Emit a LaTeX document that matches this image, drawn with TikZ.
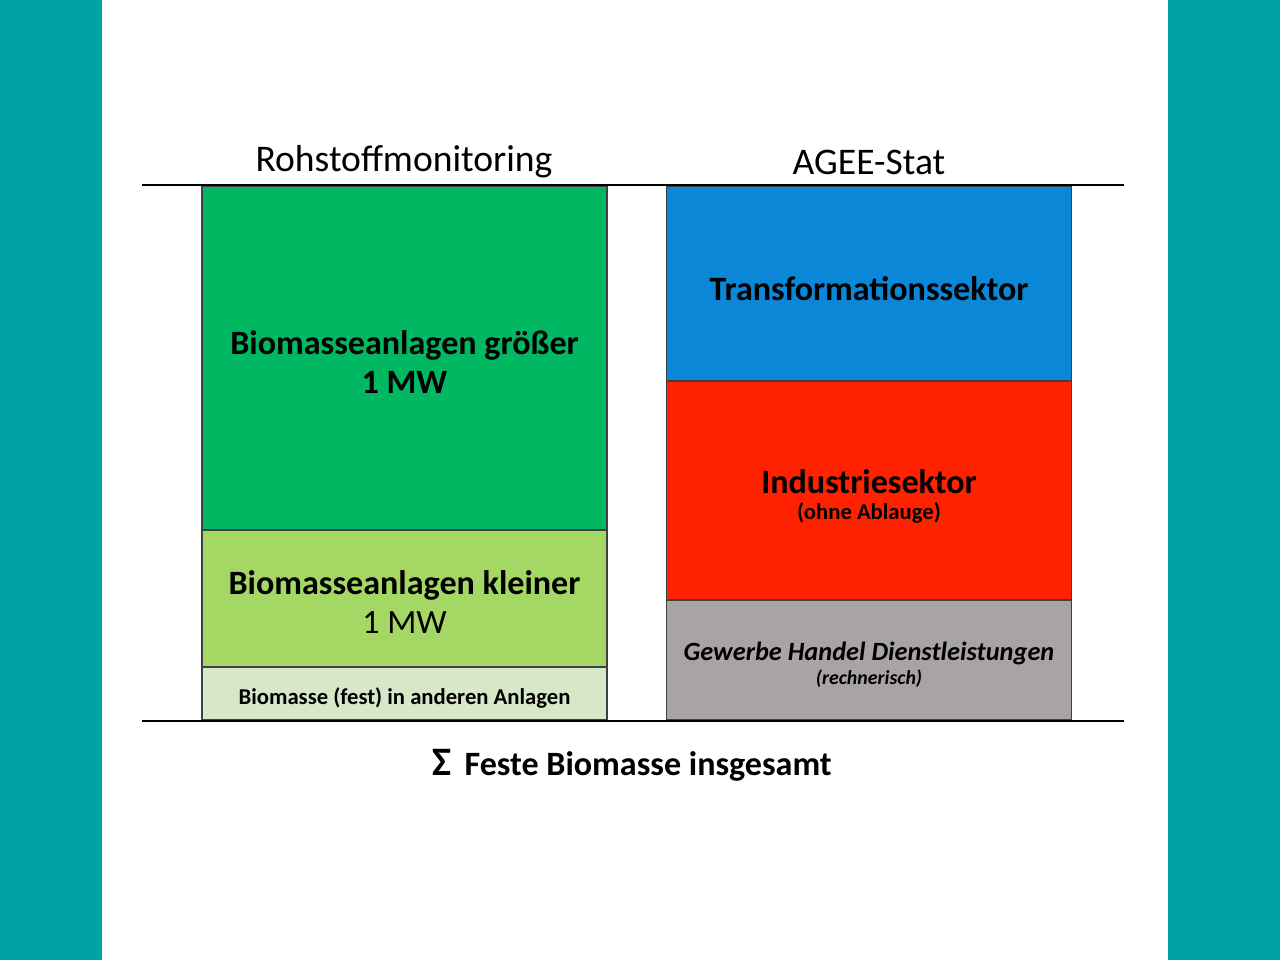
\documentclass[tikz,border=0pt]{standalone}
\usepackage{fontspec}
\setmainfont{Carlito}
\usepackage{xcolor}
\usetikzlibrary{positioning}

\definecolor{teal1}{RGB}{0,163,163}
\definecolor{gruen1}{RGB}{0,184,98}
\definecolor{gruen2}{RGB}{164,215,100}
\definecolor{gruen3}{RGB}{215,232,201}
\definecolor{blau1}{RGB}{10,135,214}
\definecolor{rot1}{RGB}{255,34,0}
\definecolor{grau1}{RGB}{168,164,163}

\begin{document}
\begin{tikzpicture}[x=0.02cm,y=-0.02cm,
    block/.style={rectangle,draw=black!75,line width=0.7pt,inner sep=0pt,outer sep=0pt,
                  minimum width=8.1cm},
    head/.style={font=\fontsize{21.4}{25}\selectfont},
    big/.style={align=center,font=\fontsize{19.4}{22.7}\selectfont\bfseries}]
    \useasboundingbox (0,0) rectangle (1280,960);
    \fill[teal1] (0,0) rectangle (102,960);
    \fill[teal1] (1168,0) rectangle (1280,960);

    % linke Saeule
    \coordinate (L0) at (404.5,186);
    \node[block,fill=gruen1,minimum height=6.88cm,below=0pt of L0] (G1) {};
    \node[block,fill=gruen2,minimum height=2.74cm,below=0pt of G1] (G2) {};
    \node[block,fill=gruen3,minimum height=1.06cm,below=0pt of G2] (G3) {};

    % rechte Saeule
    \coordinate (R0) at (869,186);
    \node[block,fill=blau1,minimum height=3.9cm,below=0pt of R0] (B1) {};
    \node[block,fill=rot1,minimum height=4.38cm,below=0pt of B1] (B2) {};
    \node[block,fill=grau1,minimum height=2.4cm,below=0pt of B2] (B3) {};

    % Beschriftungen
    \node[big] (tG1) at (404.5,362) {Biomasseanlagen größer\\1 MW};
    \node[big] (tG2) at (404.5,602) {Biomasseanlagen kleiner\\{\mdseries 1 MW}};
    \node[font=\fontsize{12.9}{15}\selectfont\bfseries] (tG3) at (404.5,698)
        {Biomasse (fest) in anderen Anlagen};
    \node[big] (tB1) at (869,289) {Transformationssektor};
    \node[big] (tB2) at (869,482) {Industriesektor};
    \node[font=\fontsize{12.9}{15}\selectfont\bfseries] (sB2) at (869,513) {(ohne Ablauge)};
    \node[font=\fontsize{15}{18}\selectfont\bfseries\itshape] (tB3) at (869,653)
        {Gewerbe Handel Dienstleistungen};
    \node[font=\fontsize{11.3}{13}\selectfont\bfseries\itshape] (sB3) at (869,679) {(rechnerisch)};

    \draw[line width=0.9pt] (142,185) coordinate (a1) -- (1124,185) coordinate (a2);
    \draw[line width=0.9pt] (142,721) coordinate (b1) -- (1124,721) coordinate (b2);

    \node[head] (H1) at (404,162) {Rohstoffmonitoring};
    \node[head] (H2) at (869,162) {AGEE-Stat};
    \node[big] (S) at (632,765) {{\fontsize{23}{25}\selectfont Σ}\, Feste Biomasse insgesamt};
\end{tikzpicture}
\end{document}
